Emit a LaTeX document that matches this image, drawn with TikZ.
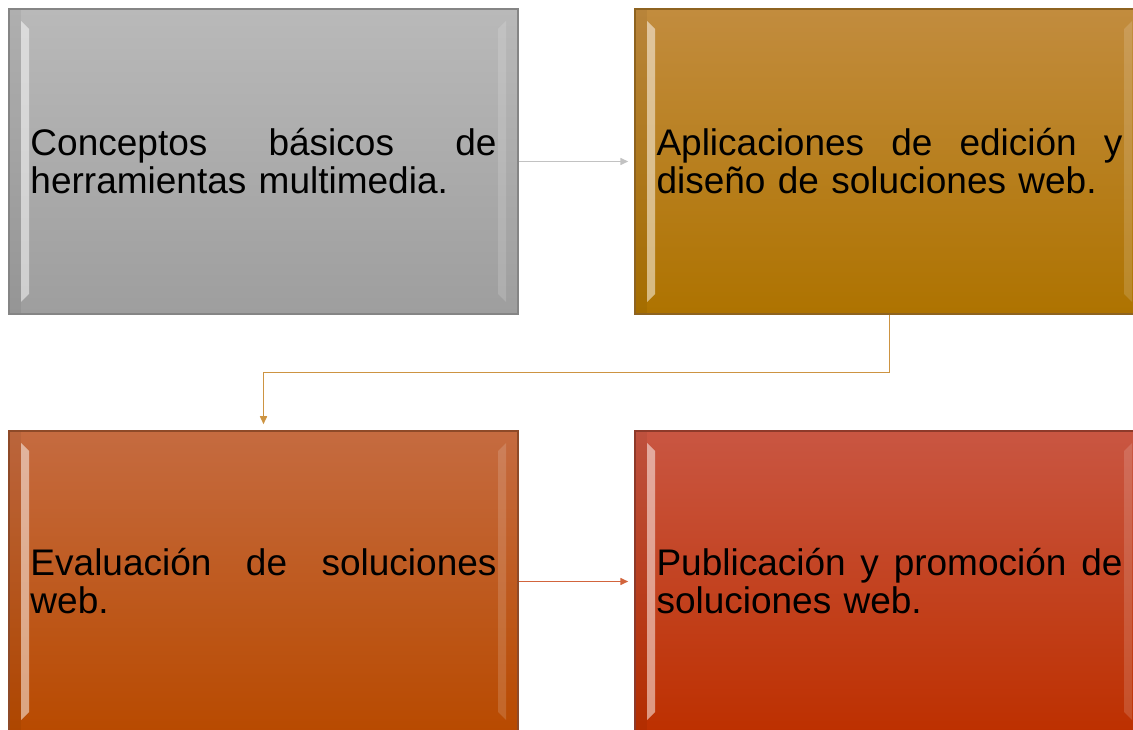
\documentclass[tikz,border=0pt]{standalone}
\usepackage{fontspec}
\setmainfont{Liberation Sans}
\usetikzlibrary{arrows.meta,calc}
\definecolor{greytop}{HTML}{B9B9B9}
\definecolor{greybot}{HTML}{9E9E9E}
\definecolor{greyline}{HTML}{858585}
\definecolor{goldtop}{HTML}{C28C3E}
\definecolor{goldbot}{HTML}{AE7300}
\definecolor{goldline}{HTML}{8E6320}
\definecolor{rusttop}{HTML}{C56B40}
\definecolor{rustbot}{HTML}{B84A00}
\definecolor{rustline}{HTML}{8E4A28}
\definecolor{redtop}{HTML}{C95642}
\definecolor{redbot}{HTML}{BD3000}
\definecolor{redline}{HTML}{8E3A2A}
\definecolor{arrowgrey}{HTML}{C2C2C2}
\definecolor{arrowgold}{HTML}{CD9442}
\definecolor{arrowrust}{HTML}{D2643C}

\begin{document}
\begin{tikzpicture}[x=1pt,y=1pt,>={Triangle[length=8pt,width=7pt]}]
  \tikzstyle{stage}=[rectangle,minimum width=509pt,minimum height=305pt,inner sep=0pt,line width=1.5pt,
    text width=466pt,align=left,font=\fontsize{37}{38}\selectfont,
    path picture={
      \coordinate (pnw) at (path picture bounding box.north west);
      \coordinate (psw) at (path picture bounding box.south west);
      \coordinate (pne) at (path picture bounding box.north east);
      \coordinate (pse) at (path picture bounding box.south east);
      \fill[white,opacity=.5] ($(pnw)+(12,-12)$) -- ($(pnw)+(20,-20)$) -- ($(psw)+(20,20)$) -- ($(psw)+(12,12)$) -- cycle;
      \fill[white,opacity=.15] ($(pne)+(-12,-12)$) -- ($(pne)+(-20,-20)$) -- ($(pse)+(-20,20)$) -- ($(pse)+(-12,12)$) -- cycle;
      \fill[black,opacity=.05] (pnw) rectangle ($(psw)+(12,0)$);
    }]
  \tikzstyle{link}=[->,line width=1.5pt,shorten >=6pt]
  \fill[white] (0,0) rectangle (1133,729);
  \useasboundingbox (0,0) rectangle (1133,729);
  \begin{scope}
    \clip (0,0) rectangle (1133,729);
    \node[stage,draw=greyline,top color=greytop,bottom color=greybot] (basics) at (263.5,567.5)
      {Conceptos\hfill básicos\hfill de\\herramientas multimedia.};
    \node[stage,draw=goldline,top color=goldtop,bottom color=goldbot] (apps) at (889.5,567.5)
      {Aplicaciones\hfill de\hfill edición\hfill y\\diseño de soluciones web.};
    \node[stage,draw=rustline,top color=rusttop,bottom color=rustbot,minimum height=301pt] (eval) at (263.5,147.5)
      {Evaluación\hfill de\hfill soluciones\\web.};
    \node[stage,draw=redline,top color=redtop,bottom color=redbot,minimum height=301pt] (publish) at (889.5,147.5)
      {Publicación\hfill y\hfill promoción\hfill de\\soluciones web.};
  \end{scope}
  \draw[link,arrowgrey] (basics.east) -- (apps.west);
  \draw[link,arrowgold] (apps.south) -- ++(0,-58) -| (eval.north);
  \draw[link,arrowrust] (eval.east) -- (publish.west);
\end{tikzpicture}
\end{document}
